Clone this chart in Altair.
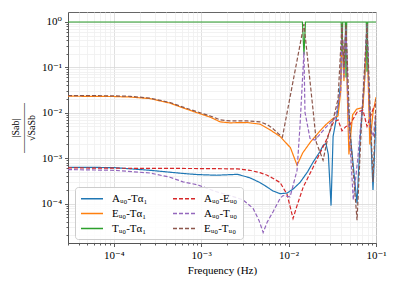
import altair as alt
import pandas as pd

# ---- series (frequency in Hz, normalised cross-spectrum) ----
names = ["Aᵤ₀-Tα₁", "Eᵤ₀-Tα₁", "Tᵤ₀-Tα₁", "Aᵤ₀-Eᵤ₀", "Aᵤ₀-Tᵤ₀", "Eᵤ₀-Tᵤ₀"]

f_at = [3e-5, 1e-4, 2.6e-4, 4.4e-4, 6.2e-4, 9e-4, 1.5e-3, 2.6e-3, 3.6e-3, 4.7e-3, 5.7e-3, 6.6e-3,
        8.0e-3, 9.6e-3, 0.0113, 0.0135, 0.0165, 0.0191, 0.0229, 0.0248, 0.0268, 0.0285, 0.0306,
        0.0323, 0.0368, 0.0395, 0.0408, 0.0425, 0.0454, 0.0475, 0.052, 0.0607, 0.066, 0.074,
        0.0789, 0.083, 0.0924, 0.1]
v_at = [6.3e-4, 6.2e-4, 5.4e-4, 4.9e-4, 4.6e-4, 4.35e-4, 4.2e-4, 4.4e-4, 3.7e-4, 2.9e-4, 2.3e-4,
        1.9e-4, 1.65e-4, 1.7e-4, 2.1e-4, 2.9e-4, 5.0e-4, 8.2e-4, 1.4e-3, 1.9e-3, 2.1e-3, 1.2e-3,
        9e-5, 3e-3, 0.012, 0.05, 0.9, 0.08, 0.9, 0.02, 2e-3, 1e-4, 3e-3, 0.05, 0.9, 0.03, 2e-4, 0.008]

f_et = [3e-5, 1e-4, 1.55e-4, 2.6e-4, 4.4e-4, 6.2e-4, 9e-4, 1.27e-3, 1.65e-3, 2.14e-3, 3.36e-3,
        4.72e-3, 6.15e-3, 8.0e-3, 0.0105, 0.0125, 0.0145, 0.0176, 0.0229, 0.0268, 0.0323, 0.0368,
        0.0395, 0.0408, 0.043, 0.0454, 0.0475, 0.049, 0.054, 0.060, 0.071, 0.0789, 0.085, 0.0924, 0.1]
v_et = [0.0232, 0.0228, 0.0222, 0.0205, 0.0163, 0.0128, 0.0100, 0.0080, 0.0063, 0.0060, 0.0061,
        0.0056, 0.0042, 0.0030, 0.0017, 7e-4, 1.3e-3, 2.2e-3, 4e-3, 5.5e-3, 7.5e-3, 8.5e-3,
        0.03, 0.8, 0.05, 0.8, 0.01, 1.2e-3, 0.009, 0.012, 0.013, 0.5, 2e-3, 0.01, 0.022]

f_tt = [3e-5, 0.0144, 0.0150, 0.0156, 0.0400, 0.0408, 0.0416, 0.0446, 0.0454, 0.0462,
        0.0775, 0.0789, 0.0803, 0.1]
v_tt = [1, 1, 0.19, 1, 1, 0.2, 1, 1, 0.06, 1, 1, 0.08, 1, 1]

f_ae = [3e-5, 1e-4, 1e-3, 2.6e-3, 3.6e-3, 4.7e-3, 5.7e-3, 6.6e-3, 8.0e-3, 9.6e-3, 0.01125,
        0.0125, 0.0147, 0.0191, 0.0229, 0.0268, 0.0323, 0.0368, 0.0408, 0.0454, 0.050, 0.0607,
        0.071, 0.0789, 0.0924, 0.1]
v_ae = [6.1e-4, 6.0e-4, 5.9e-4, 5.8e-4, 5.4e-4, 4.8e-4, 4.2e-4, 3.6e-4, 2.9e-4, 1.6e-4, 4.7e-5,
        9e-5, 2.3e-4, 6.3e-4, 1.3e-3, 2.4e-3, 6e-3, 7e-3, 4e-3, 5e-3, 5.3e-3, 0.0103, 0.0114,
        0.005, 0.012, 0.016]

f_atu = [3e-5, 1e-4, 2.6e-4, 4.4e-4, 6.2e-4, 9e-4, 1.52e-3, 2.14e-3, 3.02e-3, 3.93e-3, 4.6e-3,
         5.12e-3, 5.7e-3, 6.65e-3, 8.0e-3, 8.65e-3, 0.0104, 0.0125, 0.0135, 0.0150, 0.0154,
         0.0176, 0.0201, 0.0262, 0.034, 0.0395, 0.0408, 0.043, 0.0454, 0.048, 0.055, 0.062,
         0.071, 0.0789, 0.085, 0.093, 0.1]
v_atu = [5.6e-4, 5.4e-4, 4.7e-4, 3.8e-4, 3.0e-4, 2.6e-4, 1.8e-4, 1.5e-4, 1.2e-4, 7.8e-5, 4.2e-5,
         2.3e-5, 3.9e-5, 6.6e-5, 1.3e-4, 1.5e-4, 1.4e-4, 5.4e-4, 5e-3, 0.22, 0.0103, 0.0027,
         0.0025, 0.0046, 0.0076, 0.03, 0.8, 0.06, 0.8, 0.01, 1.2e-4, 1e-3, 0.02, 0.9, 0.005,
         0.003, 0.01]

f_etu = [3e-5, 1e-4, 1.55e-4, 2.6e-4, 4.4e-4, 6.2e-4, 9e-4, 1.27e-3, 1.65e-3, 2.14e-3, 3.36e-3,
         4.72e-3, 5.7e-3, 6.6e-3, 7.6e-3, 8.5e-3, 0.0150, 0.0191, 0.0208, 0.0248, 0.0283, 0.0323,
         0.0368, 0.0408, 0.043, 0.0454, 0.050, 0.0607, 0.068, 0.0789, 0.086, 0.0924, 0.1]
v_etu = [0.024, 0.0236, 0.023, 0.021, 0.0168, 0.0133, 0.0105, 0.0085, 0.0070, 0.0066, 0.0066,
         0.0063, 0.0055, 0.0045, 0.0035, 0.0029, 0.9, 0.011, 0.0022, 9e-4, 3e-3, 0.007, 0.02,
         0.9, 0.1, 0.9, 0.005, 4.3e-5, 0.005, 0.9, 0.01, 3e-4, 0.02]

colors = ["#1f77b4", "#ff7f0e", "#2ca02c", "#d62728", "#9467bd", "#8c564b"]
dashes = [[1, 0], [1, 0], [1, 0], [4, 2], [4, 2], [4, 2]]

x_ticks = [k * 10.0 ** e for e in (-5, -4, -3, -2) for k in range(1, 10)] + [0.1]
x_ticks = [t for t in x_ticks if t >= 3e-5]
y_ticks = [k * 10.0 ** e for e in (-5, -4, -3, -2, -1) for k in range(1, 10)] + [1.0]
y_ticks = [t for t in y_ticks if t >= 1.35e-5]
tick_labels = ["10⁻⁵", "10⁻⁴", "10⁻³", "10⁻²", "10⁻¹", "10⁰"]

all_f = [f_at, f_et, f_tt, f_ae, f_atu, f_etu]
all_v = [v_at, v_et, v_tt, v_ae, v_atu, v_etu]
rows = []
for n, fs, vs in zip(names, all_f, all_v):
    for f, v in zip(fs, vs):
        rows.append({"s": n, "f": f, "v": v})
df = pd.DataFrame(rows)

major = "abs(log(datum.value)/LN10 - round(log(datum.value)/LN10)) < 0.001"
lab_arr = "[" + ",".join("'%s'" % t for t in tick_labels) + "]"
label_expr = f"{major} ? {lab_arr}[round(log(datum.value)/LN10)+5] : ''"

serif = "Liberation Serif, Times New Roman, DejaVu Serif, serif"

def make_axis(values, title, title_size=11, **kw):
    return alt.Axis(
        values=values, labelExpr=label_expr, title=title,
        labelFont=serif, labelFontSize=11, labelColor="#000",
        titleFont=serif, titleFontSize=title_size, titleFontWeight="normal", titleColor="#000",
        tickSize={"condition": {"test": major, "value": 3.5}, "value": 2},
        tickColor="#333", tickWidth=0.8,
        gridColor={"condition": {"test": major, "value": "#d8d8d8"}, "value": "#efefef"},
        gridWidth=0.8, domainColor="#555", labelOverlap=False, labelFlush=False,
        **kw)

legend = alt.Legend(
    title=None, orient="none", legendX=7, legendY=175, columns=2,
    symbolType="M-1,0H3", symbolSize=121, symbolStrokeWidth=1.5,
    labelFont=serif, labelFontSize=11, labelColor="#000", labelOffset=19,
    columnPadding=22, rowPadding=3, padding=5,
    fillColor="rgba(255,255,255,0.85)", strokeColor="#cccccc", cornerRadius=3)

chart = alt.Chart(df).mark_line(strokeWidth=1.2, clip=True).encode(
    x=alt.X("f:Q", scale=alt.Scale(type="log", domain=[3e-5, 0.1], nice=False),
            axis=make_axis(x_ticks, "Frequency (Hz)", labelPadding=3)),
    y=alt.Y("v:Q", scale=alt.Scale(type="log", domain=[1.35e-5, 1.66], nice=False),
            axis=make_axis(y_ticks, ["|Sab|", "―――――", "√SaSb"], title_size=10,
                           titleLineHeight=8, labelPadding=3)),
    color=alt.Color("s:N", scale=alt.Scale(domain=names, range=colors), legend=legend),
    strokeDash=alt.StrokeDash("s:N", scale=alt.Scale(domain=names, range=dashes),
                              legend=legend),
).properties(
    width=308, height=231,
    autosize=alt.AutoSizeParams(type="none"),
    padding={"left": 60, "top": 4, "right": 15, "bottom": 33},
).configure_view(stroke="#666", strokeWidth=1)

chart.save("out.html", embed_options={"renderer": "svg", "actions": False})
